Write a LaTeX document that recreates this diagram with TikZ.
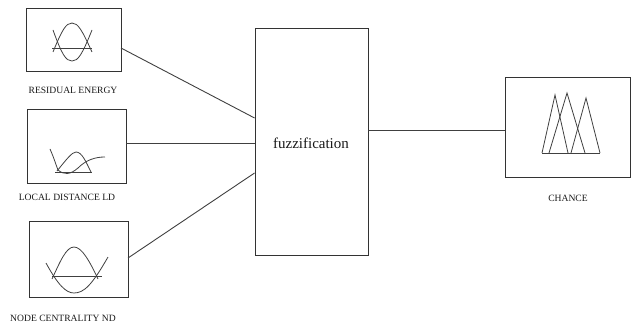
\documentclass[tikz,border=0pt]{standalone}
\usepackage{fontspec}
\setmainfont{Liberation Serif}
\begin{document}
\begin{tikzpicture}[x=1pt,y=-1pt,
  box/.style={draw=black!80,line width=0.9pt},
  wire/.style={draw=black!75,line width=0.9pt},
  curve/.style={draw=black!75,line width=0.8pt},
  lbl/.style={font=\fontsize{9.6}{11}\selectfont,inner sep=0pt,text=black!90}]
\useasboundingbox (0,0) rectangle (639,323);
% boxes
\draw[box] (26,8) rectangle (121,71);
\coordinate (b1) at (121,48);
\draw[box] (27,109) rectangle (126,183);
\coordinate (b2) at (126,143);
\draw[box] (29,221) rectangle (128,297);
\coordinate (b3) at (128,258);
\node[box,minimum width=113pt,minimum height=227pt,inner sep=0pt] (fz) at (311.5,141.5) {};
\node[font=\fontsize{15}{17}\selectfont,text=black!90] at (311,143) {fuzzification};
\node[box,minimum width=125pt,minimum height=100pt,inner sep=0pt] (ch) at (567.5,127) {};
% labels
\node[lbl] (l1) at (73,90) {RESIDUAL ENERGY};
\node[lbl] (l2) at (67,197) {LOCAL DISTANCE LD};
\node[lbl] (l3) at (63,318) {NODE CENTRALITY ND};
\node[lbl] (l4) at (568,198) {CHANCE};
% connectors
\draw[wire] (b1) -- (fz.west |- 0,118);
\draw[wire] (b2) -- (fz.west |- 0,143);
\draw[wire] (b3) -- (fz.west |- 0,173);
\draw[wire] (fz.east |- 0,130) -- (ch.west |- 0,130);
% icon 1
\draw[curve] (53,30) .. controls (62,55) and (66,61) .. (72,61) .. controls (78,61) and (82,55) .. (92,30);
\draw[curve] (53,52) .. controls (62,30) and (66,23) .. (72,23) .. controls (78,23) and (82,30) .. (92,52);
\draw[curve] (52,48) -- (92,48);
% icon 2
\draw[curve] (50,149) .. controls (54,158) and (56,165) .. (58,170);
\draw[curve] (57,171) .. controls (66,160) and (72,152) .. (76,152) .. controls (82,152) and (86,162) .. (91,172);
\draw[curve] (58,170) .. controls (64,175) and (70,175) .. (78,168) .. controls (86,160) and (95,157) .. (105,157);
\draw[curve] (55,172) -- (92,172);
% icon 3
\draw[curve] (46,263) .. controls (58,285) and (66,293) .. (74,293) .. controls (84,293) and (92,285) .. (108,257);
\draw[curve] (52,279) .. controls (60,262) and (66,247) .. (74,247) .. controls (82,247) and (90,262) .. (98,279);
\draw[curve] (52,276) -- (102,276);
% triangles
\draw[curve] (542,153) -- (555,95) -- (568,153);
\draw[curve] (549,153) -- (567,93) -- (585,153);
\draw[curve] (571,153) -- (586,98) -- (600,153);
\draw[curve] (542,153) -- (600,153);
\end{tikzpicture}
\end{document}
